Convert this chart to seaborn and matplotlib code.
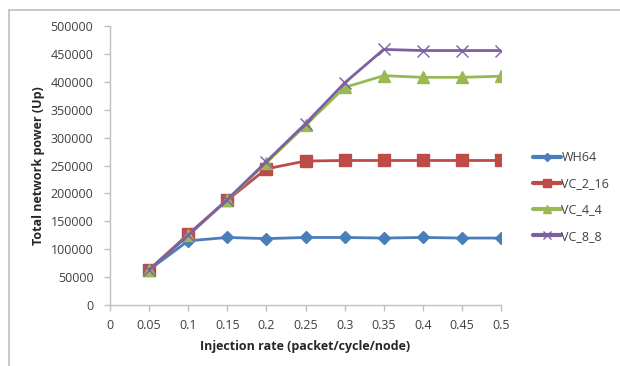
import matplotlib
matplotlib.use("Agg")
import matplotlib.pyplot as plt
import seaborn as sns
import pandas as pd
from matplotlib.patches import Rectangle
from matplotlib.lines import Line2D

x_rates = [0.05, 0.1, 0.15, 0.2, 0.25, 0.3, 0.35, 0.4, 0.45, 0.5]
wh64 = [63000, 115000, 121000, 119000, 121000, 121000, 120000, 121000, 120000, 120000]
vc_2_16 = [63000, 127000, 188000, 244000, 258000, 259000, 259000, 259000, 259000, 259000]
vc_4_4 = [63000, 125000, 188000, 255000, 322000, 390000, 411000, 408000, 408000, 410000]
vc_8_8 = [63000, 125000, 189000, 257000, 325000, 398000, 458000, 456000, 456000, 456000]
series_names = ["WH64", "VC_2_16", "VC_4_4", "VC_8_8"]
x_ticks = [0, 0.05, 0.1, 0.15, 0.2, 0.25, 0.3, 0.35, 0.4, 0.45, 0.5]
x_tick_labels = ["0", "0.05", "0.1", "0.15", "0.2", "0.25", "0.3", "0.35", "0.4", "0.45", "0.5"]
y_ticks = [0, 50000, 100000, 150000, 200000, 250000, 300000, 350000, 400000, 450000, 500000]

sns.set_style("white")
plt.rcParams["font.family"] = ["Open Sans", "DejaVu Sans"]

values = {"WH64": wh64, "VC_2_16": vc_2_16, "VC_4_4": vc_4_4, "VC_8_8": vc_8_8}
rows = []
for name in series_names:
    for xv, yv in zip(x_rates, values[name]):
        rows.append({"rate": xv, "power": yv, "series": name})
df = pd.DataFrame(rows)

colors = {"WH64": "#4a7ebb", "VC_2_16": "#be4b48", "VC_4_4": "#98b954", "VC_8_8": "#7d60a0"}
markers = {"WH64": "D", "VC_2_16": "s", "VC_4_4": "^", "VC_8_8": "x"}
msizes = {"WH64": 6, "VC_2_16": 8, "VC_4_4": 8, "VC_8_8": 8}

fig = plt.figure(figsize=(6.2, 3.66), dpi=100)
ax = fig.add_axes([110 / 620, 61 / 366, 391 / 620, 279 / 366])

for name in series_names:
    sub = df[df["series"] == name]
    sns.lineplot(data=sub, x="rate", y="power", ax=ax, color=colors[name],
                 linewidth=2.0, marker=markers[name], markersize=msizes[name],
                 markeredgecolor=colors[name], markeredgewidth=1.0, legend=False)

ax.set_xlim(0, 0.5)
ax.set_ylim(0, 500000)
ax.set_xticks(x_ticks)
ax.set_xticklabels(x_tick_labels)
ax.set_yticks(y_ticks)
ax.set_yticklabels([str(v) for v in y_ticks])
ax.tick_params(axis="both", which="both", length=4, width=1, color="#bfbfbf",
               labelsize=9, labelcolor="#404040", direction="out", bottom=True, left=True)
ax.tick_params(axis="x", pad=6)
ax.tick_params(axis="y", pad=8)
for side in ["top", "right"]:
    ax.spines[side].set_visible(False)
for side in ["left", "bottom"]:
    ax.spines[side].set_color("#bfbfbf")
    ax.spines[side].set_linewidth(1.0)
ax.set_xlabel("Injection rate (packet/cycle/node)", fontsize=9, fontweight="bold",
              color="#262626", labelpad=6)
ax.set_ylabel("Total network power (Up)", fontsize=9, fontweight="bold",
              color="#262626", labelpad=4)
ax.patch.set_alpha(0)

handles = [Line2D([0], [0], color=colors[n], linewidth=3, marker=markers[n],
                  markersize=msizes[n] - 2, markeredgecolor=colors[n]) for n in series_names]
fig.legend(handles, series_names, loc="upper left", bbox_to_anchor=(522 / 620, 1 - 140 / 366),
           frameon=False, fontsize=9, handlelength=2.2, handletextpad=0.05,
           labelspacing=1.05, labelcolor="#404040")

fig.patches.append(Rectangle((9 / 620, -0.1), 1.2, 1.1 - 10 / 366, transform=fig.transFigure,
                             fill=False, edgecolor="#bfbfbf", linewidth=1.2, zorder=0))

fig.savefig("out.png", dpi=100)
